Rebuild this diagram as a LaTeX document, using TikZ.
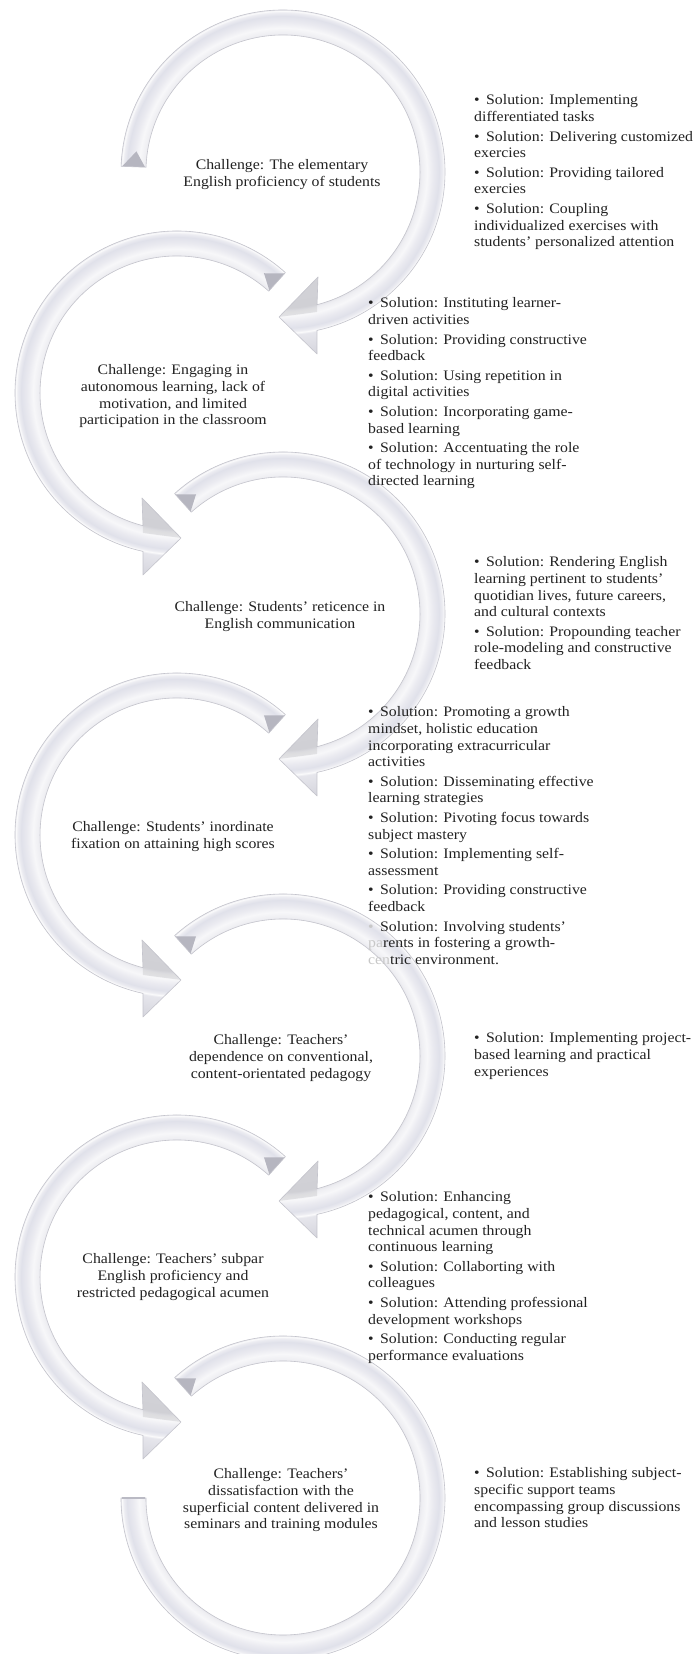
\documentclass[tikz,border=0pt]{standalone}
\usepackage{fontspec}
\setmainfont{Liberation Serif}[FakeStretch=1.09]
\definecolor{txtc}{HTML}{222222}
\definecolor{ringedge}{HTML}{C4C4CC}
\definecolor{facetc}{HTML}{B6B6C0}
\definecolor{shA}{HTML}{E4E4EA}
\definecolor{shB}{HTML}{E2E2E8}
\definecolor{shC}{HTML}{EEEEF2}
\definecolor{shD}{HTML}{F7F7F9}
\definecolor{shE}{HTML}{EAEAF0}
\definecolor{shF}{HTML}{E0E1EA}
\definecolor{shG}{HTML}{EDEDF2}
\definecolor{shH}{HTML}{FAFAFB}
\definecolor{shI}{HTML}{E6E6EC}
\definecolor{shJ}{HTML}{D4D4DC}
\definecolor{faint}{HTML}{C8C8C8}
\pgfdeclareradialshading{ringsh}{\pgfpoint{0pt}{0pt}}{color(0pt)=(shA); color(105pt)=(shA); color(136pt)=(shB); color(138.5pt)=(shC); color(144pt)=(shD); color(150pt)=(shE); color(156pt)=(shF); color(159.5pt)=(shG); color(161pt)=(shH); color(163pt)=(shI); color(186pt)=(shJ)}
\newcommand\txtfont{\fontsize{14.5pt}{16.6pt}\selectfont}
\newcommand\chbox[1]{\parbox[t]{280pt}{\centering #1}}
\newcommand\solbox[1]{\parbox[t]{300pt}{\raggedright #1}}
\newcommand\sitem[1]{\hangindent=12pt\hangafter=1\noindent\makebox[12pt][l]{\textbullet}#1\par}
\newcommand\sitemf[1]{\hangindent=12pt\hangafter=1\noindent\makebox[12pt][l]{\textcolor{faint}{\textbullet}}#1\par}
\newcommand\igap{\vspace{3pt}}
\tikzset{
 chal/.style={anchor=base, inner sep=0pt, text=txtc, font=\txtfont},
 sol/.style={anchor=base west, inner sep=0pt, text=txtc, font=\txtfont},
 ringline/.style={draw=ringedge, line width=0.6pt, line join=round},
 facet/.style={fill=facetc},
 headfacet/.style={fill=black, fill opacity=0.08},
}
% clockwise ring with arrowhead at the bottom pointing left
\newcommand\cwring[3]{%
 \begin{scope}[shift={#2}]
  \def\rp{(#3:162) arc[start angle=#3,end angle=-77.9,radius=162] -- (34,-182) -- (-4,-145) -- (35,-105) -- (34,-132.7) arc[start angle=-75.6,end angle=#3,radius=137] -- cycle}
  \begin{scope}\clip \rp; \node[inner sep=0pt] (#1) at (0,0) {\pgfuseshading{ringsh}};\end{scope}
  \fill[facet] (#3:161) -- ({#3-6}:148) -- (#3:138) -- cycle;
  \fill[headfacet] (35,-105) -- (-4,-145) -- (34,-140) -- cycle;
  \path[ringline] \rp;
 \end{scope}}
% counter-clockwise ring with arrowhead at the bottom pointing right
\newcommand\ccwring[3]{%
 \begin{scope}[shift={#2}]
  \def\rp{(#3:162) arc[start angle=#3,end angle=257.9,radius=162] -- (-34,-182) -- (4,-145) -- (-35,-105) -- (-34,-132.7) arc[start angle=255.6,end angle=#3,radius=137] -- cycle}
  \begin{scope}\clip \rp; \node[inner sep=0pt] (#1) at (0,0) {\pgfuseshading{ringsh}};\end{scope}
  \fill[facet] (#3:161) -- ({#3+6}:148) -- (#3:138) -- cycle;
  \fill[headfacet] (-35,-105) -- (4,-145) -- (-34,-140) -- cycle;
  \path[ringline] \rp;
 \end{scope}}
\begin{document}
\begin{tikzpicture}[x=1pt,y=1pt]
\useasboundingbox (0,0) rectangle (699,1654);
\clip (0,0) rectangle (699,1654);
\fill[white] (0,0) rectangle (699,1654);
\cwring{r1}{(283,1482)}{178}
\ccwring{r2}{(177,1261)}{48}
\cwring{r3}{(283,1040)}{132}
\ccwring{r4}{(177,819)}{48}
\cwring{r5}{(283,598)}{132}
\ccwring{r6}{(177,377)}{48}
\begin{scope}[shift={(283,156)}]
 \def\rp{(132:162) arc[start angle=132,end angle=-180,radius=162] -- (-180:137) arc[start angle=-180,end angle=132,radius=137] -- cycle}
 \begin{scope}\clip \rp; \node[inner sep=0pt] (r7) at (0,0) {\pgfuseshading{ringsh}};\end{scope}
 \fill[facet] (132:161) -- (126:148) -- (132:138) -- cycle;
 \draw[draw=facetc, line width=1.4pt] (180:161) -- (180:138);
 \path[ringline] \rp;
\end{scope}
% challenges
\node[chal] (c1) at (282,1484) {\chbox{Challenge: The elementary\\English proficiency of students}};
\node[chal] (c2) at (173,1279) {\chbox{Challenge: Engaging in\\autonomous learning, lack of\\motivation, and limited\\participation in the classroom}};
\node[chal] (c3) at (280,1042) {\chbox{Challenge: Students’ reticence in\\English communication}};
\node[chal] (c4) at (173,822) {\chbox{Challenge: Students’ inordinate\\fixation on attaining high scores}};
\node[chal] (c5) at (281,609) {\chbox{Challenge: Teachers'\\dependence on conventional,\\content-orientated pedagogy}};
\node[chal] (c6) at (173,390) {\chbox{Challenge: Teachers' subpar\\English proficiency and\\restricted pedagogical acumen}};
\node[chal] (c7) at (281,175) {\chbox{Challenge: Teachers'\\dissatisfaction with the\\superficial content delivered in\\seminars and training modules}};
% solutions
\node[sol] (s1) at (474,1549) {\solbox{%
\sitem{Solution: Implementing\\differentiated tasks}\igap
\sitem{Solution: Delivering customized\\exercies}\igap
\sitem{Solution: Providing tailored\\exercies}\igap
\sitem{Solution: Coupling\\individualized exercises with\\students' personalized attention}}};
\node[sol] (s2) at (368,1346) {\solbox{%
\sitem{Solution: Instituting learner-\\driven activities}\igap
\sitem{Solution: Providing constructive\\feedback}\igap
\sitem{Solution: Using repetition in\\digital activities}\igap
\sitem{Solution: Incorporating game-\\based learning}\igap
\sitem{Solution: Accentuating the role\\of technology in nurturing self-\\directed learning}}};
\node[sol] (s3) at (474,1087) {\solbox{%
\sitem{Solution: Rendering English\\learning pertinent to students'\\quotidian lives, future careers,\\and cultural contexts}\igap
\sitem{Solution: Propounding teacher\\role-modeling and constructive\\feedback}}};
\node[sol] (s4) at (368,937) {\solbox{%
\sitem{Solution: Promoting a growth\\mindset, holistic education\\incorporating extracurricular\\activities}\igap
\sitem{Solution: Disseminating effective\\learning strategies}\igap
\sitem{Solution: Pivoting focus towards\\subject mastery}\igap
\sitem{Solution: Implementing self-\\assessment}\igap
\sitem{Solution: Providing constructive\\feedback}\igap
\sitemf{Solution: Involving students'\\\textcolor{faint}{pa}rents in fostering a growth-\\\textcolor{faint}{cen}tric environment.}}};
\node[sol] (s5) at (474,611) {\solbox{%
\sitem{Solution: Implementing project-\\based learning and practical\\experiences}}};
\node[sol] (s6) at (368,452) {\solbox{%
\sitem{Solution: Enhancing\\pedagogical, content, and\\technical acumen through\\continuous learning}\igap
\sitem{Solution: Collaborting with\\colleagues}\igap
\sitem{Solution: Attending professional\\development workshops}\igap
\sitem{Solution: Conducting regular\\performance evaluations}}};
\node[sol] (s7) at (474,176) {\solbox{%
\sitem{Solution: Establishing subject-\\specific support teams\\encompassing group discussions\\and lesson studies}}};
\end{tikzpicture}
\end{document}
